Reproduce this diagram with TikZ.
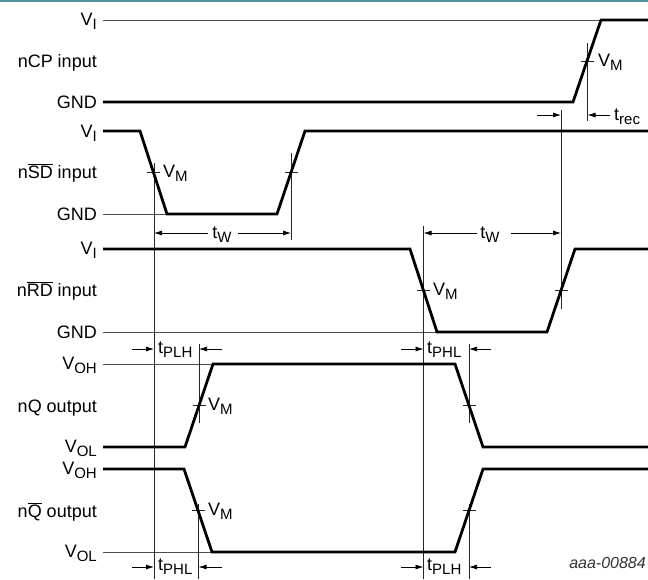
\documentclass[tikz,border=0pt]{standalone}
\usepackage{fontspec}
\setmainfont{Liberation Sans}
\usetikzlibrary{arrows.meta}
\newcommand{\sbs}[1]{\raisebox{-0.27em}{\fontsize{15}{15}\selectfont #1}}
\newcommand{\ovl}[1]{$\overline{\hbox{#1}}$}
\definecolor{topbar}{RGB}{84,146,162}
\tikzset{
  sig/.style={line width=2.8pt, line join=miter, line cap=butt},
  lvl/.style={line width=0.8pt, draw=black!70},
  vl/.style={line width=0.75pt, draw=black!85},
  tick/.style={line width=0.75pt, draw=black!85},
  dimarrow/.style={line width=0.75pt, -{Latex[length=8pt,width=5pt]}},
  lbl/.style={font=\fontsize{18}{18}\selectfont, inner sep=0pt},
  lft/.style={lbl, anchor=base east},
  vm/.style={lbl, anchor=base west},
}
\begin{document}
\begin{tikzpicture}[x=1pt,y=-1pt]
\useasboundingbox (0,0) rectangle (648,579);
% top border
\draw[topbar, line width=2pt] (0,1.2) -- (648,1.2);

% ---------- left labels ----------
\node[lft] (l1a) at (97,25) {V\sbs{I}};
\node[lft] (l1b) at (97,67) {nCP input};
\node[lft] (l1c) at (97,108) {GND};
\node[lft] (l2a) at (97,137) {V\sbs{I}};
\node[lft] (l2b) at (97,178) {n\ovl{SD} input};
\node[lft] (l2c) at (97,220) {GND};
\node[lft] (l3a) at (97,254) {V\sbs{I}};
\node[lft] (l3b) at (97,296) {n\ovl{RD} input};
\node[lft] (l3c) at (97,338) {GND};
\node[lft] (l4a) at (97,369) {V\sbs{OH}};
\node[lft] (l4b) at (97,412) {nQ output};
\node[lft] (l4c) at (97,452) {V\sbs{OL}};
\node[lft] (l5a) at (97,474) {V\sbs{OH}};
\node[lft] (l5b) at (97,517) {n\ovl{Q} output};
\node[lft] (l5c) at (97,557) {V\sbs{OL}};

% ---------- reference level lines ----------
\draw[lvl] (103,20) -- (601,20);
\draw[lvl] (103,214) -- (167,214);
\draw[lvl] (103,332) -- (437,332);
\draw[lvl] (103,364) -- (213,364);
\draw[lvl] (103,552) -- (212,552);

% ---------- measurement verticals ----------
\draw[vl] (154,163) -- (154,579);
\draw[vl] (291,153) -- (291,240);
\draw[vl] (423.5,226) -- (423.5,579);
\draw[vl] (561,110) -- (561,309);
\draw[vl] (587.5,43) -- (587.5,121);
\draw[vl] (199,344) -- (199,423);
\draw[vl] (469,344) -- (469,423);
\draw[vl] (198.5,504) -- (198.5,579);
\draw[vl] (469,504) -- (469,579);

% ---------- ticks at V_M ----------
\foreach \x/\y in {587.5/61, 153.5/172.5, 291/172.5, 423.5/290.5, 561/290.5,
                   199/405.5, 469/405.5, 198.5/510.5, 469/510.5}
  \draw[tick] (\x-6.5,\y) -- (\x+6.5,\y);

% ---------- signals ----------
\draw[sig] (103,102) -- (573,102) -- (601,20) -- (648,20);
\draw[sig] (103,131) -- (140,131) -- (167,214) -- (277,214) -- (305,131) -- (648,131);
\draw[sig] (103,249) -- (410,249) -- (437,332) -- (547,332) -- (575,249) -- (648,249);
\draw[sig] (103,447) -- (185,447) -- (213,364) -- (455,364) -- (483,447) -- (648,447);
\draw[sig] (103,469) -- (184,469) -- (212,552) -- (455,552) -- (483,469) -- (648,469);

% ---------- V_M labels ----------
\node[vm] (m1) at (598,66) {V\sbs{M}};
\node[vm] (m2) at (163,177) {V\sbs{M}};
\node[vm] (m3) at (433,295) {V\sbs{M}};
\node[vm] (m4) at (208,410) {V\sbs{M}};
\node[vm] (m5) at (208,515) {V\sbs{M}};

% ---------- timing annotations ----------
% t_rec
\coordinate (rA) at (537,115); \coordinate (rB) at (561,115);
\coordinate (rC) at (610,115); \coordinate (rD) at (587.5,115);
\draw[dimarrow] (rA) -- (rB);
\draw[dimarrow] (rC) -- (rD);
\node[lbl, anchor=base west] (trec) at (614,120) {t\sbs{rec}};

% t_W (nSD)
\node[lbl, anchor=base] (tw1) at (222,238) {t\sbs{W}};
\coordinate (w1a) at (208,233); \coordinate (w1b) at (154,233);
\coordinate (w1c) at (238,233); \coordinate (w1d) at (291,233);
\draw[dimarrow] (w1a) -- (w1b);
\draw[dimarrow] (w1c) -- (w1d);

% t_W (nRD)
\node[lbl, anchor=base] (tw2) at (490,238) {t\sbs{W}};
\coordinate (w2a) at (477,233); \coordinate (w2b) at (423.5,233);
\coordinate (w2c) at (511,233); \coordinate (w2d) at (561,233);
\draw[dimarrow] (w2a) -- (w2b);
\draw[dimarrow] (w2c) -- (w2d);

% t_PLH (nQ)
\coordinate (p1a) at (132,349); \coordinate (p1b) at (154,349);
\coordinate (p1c) at (222,349); \coordinate (p1d) at (199,349);
\draw[dimarrow] (p1a) -- (p1b);
\draw[dimarrow] (p1c) -- (p1d);
\node[lbl, anchor=base west] (tplh1) at (158,353) {t\sbs{PLH}};

% t_PHL (nQ)
\coordinate (p2a) at (401,349); \coordinate (p2b) at (423.5,349);
\coordinate (p2c) at (491,349); \coordinate (p2d) at (469,349);
\draw[dimarrow] (p2a) -- (p2b);
\draw[dimarrow] (p2c) -- (p2d);
\node[lbl, anchor=base west] (tphl1) at (427,353) {t\sbs{PHL}};

% t_PHL (nQbar)
\coordinate (p3a) at (132,567); \coordinate (p3b) at (154,567);
\coordinate (p3c) at (222,567); \coordinate (p3d) at (198.5,567);
\draw[dimarrow] (p3a) -- (p3b);
\draw[dimarrow] (p3c) -- (p3d);
\node[lbl, anchor=base west] (tphl2) at (158,570) {t\sbs{PHL}};

% t_PLH (nQbar)
\coordinate (p4a) at (401,567); \coordinate (p4b) at (423.5,567);
\coordinate (p4c) at (491,567); \coordinate (p4d) at (469,567);
\draw[dimarrow] (p4a) -- (p4b);
\draw[dimarrow] (p4c) -- (p4d);
\node[lbl, anchor=base west] (tplh2) at (427,570) {t\sbs{PLH}};

% figure code
\node[inner sep=0pt, anchor=base east, font=\fontsize{16}{16}\selectfont\itshape, text=black!80] (code) at (646,568) {aaa-00884};
\end{tikzpicture}
\end{document}
